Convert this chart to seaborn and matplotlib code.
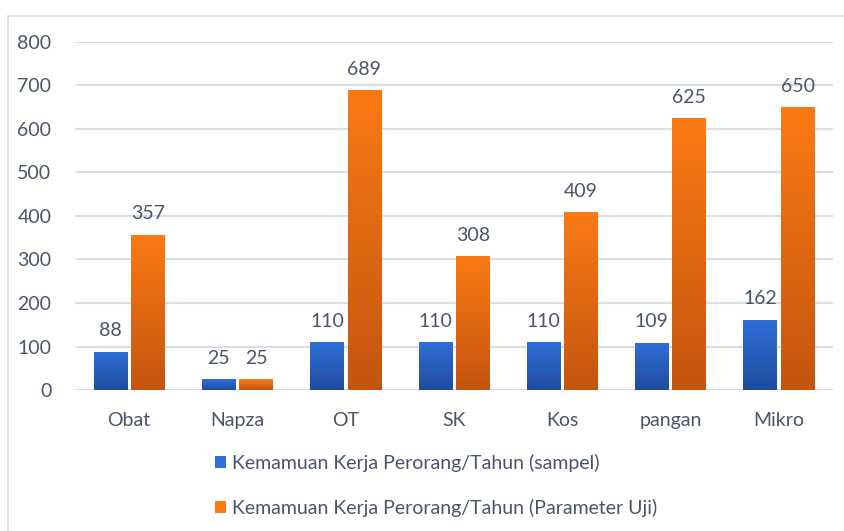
import numpy as np
import pandas as pd
import matplotlib
matplotlib.use("Agg")
import matplotlib.pyplot as plt
import seaborn as sns
from matplotlib.colors import LinearSegmentedColormap
from matplotlib.patches import Rectangle, Patch

categories = ["Obat", "Napza", "OT", "SK", "Kos", "pangan", "Mikro"]
sampel = [88, 25, 110, 110, 110, 109, 162]
parameter_uji = [357, 25, 689, 308, 409, 625, 650]
series_names = ["Kemamuan Kerja Perorang/Tahun (sampel)",
                "Kemamuan Kerja Perorang/Tahun (Parameter Uji)"]

df = pd.DataFrame({
    "kategori": categories * 2,
    "nilai": sampel + parameter_uji,
    "seri": [series_names[0]] * len(categories) + [series_names[1]] * len(categories),
})

text_col = "#4A5568"
grad = {
    series_names[0]: ("#2F6FD8", "#1F4C9C"),
    series_names[1]: ("#FB7A14", "#C4550F"),
}

sns.set_theme(style="white")
plt.rcParams["font.family"] = ["Lato", "DejaVu Sans"]
fs = 14

fig = plt.figure(figsize=(8.45, 5.31), dpi=100)
ax = fig.add_axes([0.0888, 0.2655, 0.897, 0.6555])

sns.barplot(data=df, x="kategori", y="nilai", hue="seri", order=categories,
            hue_order=series_names, width=0.69, gap=0.1,
            palette=[grad[s][0] for s in series_names], legend=False, ax=ax,
            linewidth=0, zorder=2)

ax.set_yticks(range(0, 801, 100))
ax.yaxis.grid(True, color="#D9DDE5", linewidth=1.5, zorder=0)
ax.set_axisbelow(True)
for s in ax.spines.values():
    s.set_visible(False)
ax.set_xlabel("")
ax.set_ylabel("")
ax.tick_params(axis="both", length=0, labelsize=fs, labelcolor=text_col)
ax.tick_params(axis="y", pad=17)
ax.tick_params(axis="x", pad=16)

# gradient fill clipped to each bar
for cont, name in zip(ax.containers, series_names):
    cmap = LinearSegmentedColormap.from_list(name, [grad[name][1], grad[name][0]])
    for bar in cont:
        x0, y0 = bar.get_x(), bar.get_y()
        w, h = bar.get_width(), bar.get_height()
        img = ax.imshow(np.linspace(0, 1, 256).reshape(-1, 1), cmap=cmap,
                        aspect="auto", origin="lower",
                        extent=[x0, x0 + w, y0, y0 + h], zorder=2.5)
        img.set_clip_path(bar)
    ax.bar_label(cont, padding=9, fontsize=fs, color=text_col)
ax.set_xlim(-0.5, len(categories) - 0.5)
ax.set_ylim(0, 800)

handles = [Patch(facecolor=grad[s][0], edgecolor="none") for s in series_names]
fig.legend(handles, series_names, loc="upper left", bbox_to_anchor=(0.245, 0.16),
           frameon=False, fontsize=fs, labelcolor=text_col, handlelength=0.6,
           handleheight=0.6, handletextpad=0.3, labelspacing=1.4, borderaxespad=0)

fig.patches.append(Rectangle((8 / 845, -0.1), 1.2, 0.1 + 1 - 16 / 531,
                             transform=fig.transFigure, fill=False,
                             edgecolor="#D9D9D9", linewidth=1.2))

fig.savefig("out.png", dpi=100)
